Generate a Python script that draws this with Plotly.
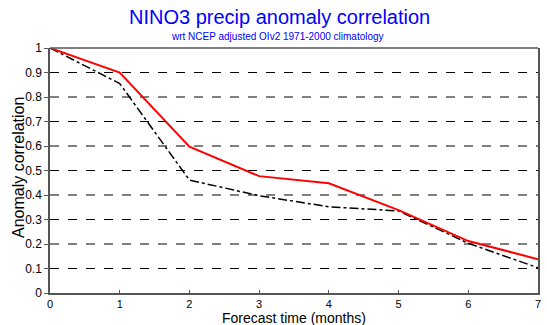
import plotly.graph_objects as go

months = [0, 1, 2, 3, 4, 5, 6, 7]
red_series = [1.0, 0.90, 0.597, 0.477, 0.448, 0.338, 0.212, 0.138]
black_series = [1.0, 0.855, 0.461, 0.397, 0.352, 0.335, 0.203, 0.103]
y_ticks = [0, 0.1, 0.2, 0.3, 0.4, 0.5, 0.6, 0.7, 0.8, 0.9, 1]
y_tick_labels = ["0", "0.1", "0.2", "0.3", "0.4", "0.5", "0.6", "0.7", "0.8", "0.9", "1"]

W, H = 547, 325
L, R, T, B = 50, 9, 48, 32
PW, PH = W - L - R, H - T - B


def px(x):
    return (x - L) / PW


def py(y):
    return (H - B - y) / PH


fig = go.Figure()
fig.add_trace(go.Scatter(x=months, y=black_series, mode="lines",
                         line=dict(color="black", width=1.5, dash="dashdot")))
fig.add_trace(go.Scatter(x=months, y=red_series, mode="lines",
                         line=dict(color="#ff0000", width=2)))

for v in y_ticks[1:-1]:
    fig.add_shape(type="line", xref="paper", x0=0, x1=1, yref="y", y0=v, y1=v,
                  line=dict(color="black", width=1, dash="dash"), layer="below")

font = "Liberation Sans, Arial, sans-serif"
fig.update_layout(
    width=W, height=H,
    margin=dict(l=L, r=R, t=T, b=B),
    paper_bgcolor="white", plot_bgcolor="white",
    showlegend=False,
    font=dict(family=font, color="black"),
    annotations=[
        dict(text="NINO3 precip anomaly correlation", xref="paper", yref="paper",
             x=px(279), y=py(17), xanchor="center", yanchor="middle", showarrow=False,
             font=dict(size=20, color="#0000ff", family=font)),
        dict(text="wrt NCEP adjusted OIv2 1971-2000 climatology", xref="paper", yref="paper",
             x=px(277), y=py(36), xanchor="center", yanchor="middle", showarrow=False,
             font=dict(size=10, color="#0000ff", family=font)),
        dict(text="Forecast time (months)", xref="paper", yref="paper",
             x=px(294), y=py(318), xanchor="center", yanchor="middle", showarrow=False,
             font=dict(size=14, color="black", family=font)),
        dict(text="Anomaly correlation", xref="paper", yref="paper", textangle=-90,
             x=px(18), y=py(168), xanchor="center", yanchor="middle", showarrow=False,
             font=dict(size=16, color="black", family=font)),
    ],
)

fig.update_xaxes(range=[0, 7], tickvals=months, ticks="inside", ticklen=3, tickcolor="#555",
                 showgrid=False, zeroline=False, showline=True, linecolor="#555", linewidth=1.5,
                 mirror=False, tickfont=dict(size=11), automargin=False)
fig.update_yaxes(range=[0, 1], tickvals=y_ticks, ticktext=y_tick_labels, ticks="outside", ticklen=4,
                 tickcolor="#555", showgrid=False, zeroline=False, showline=True, linecolor="#555",
                 linewidth=1.5, mirror=True, tickfont=dict(size=12), automargin=False)
# top border of plot box
fig.add_shape(type="line", xref="paper", yref="paper", x0=0, x1=1, y0=1, y1=1,
              line=dict(color="#555", width=1.5))

fig.write_html("out.html")
